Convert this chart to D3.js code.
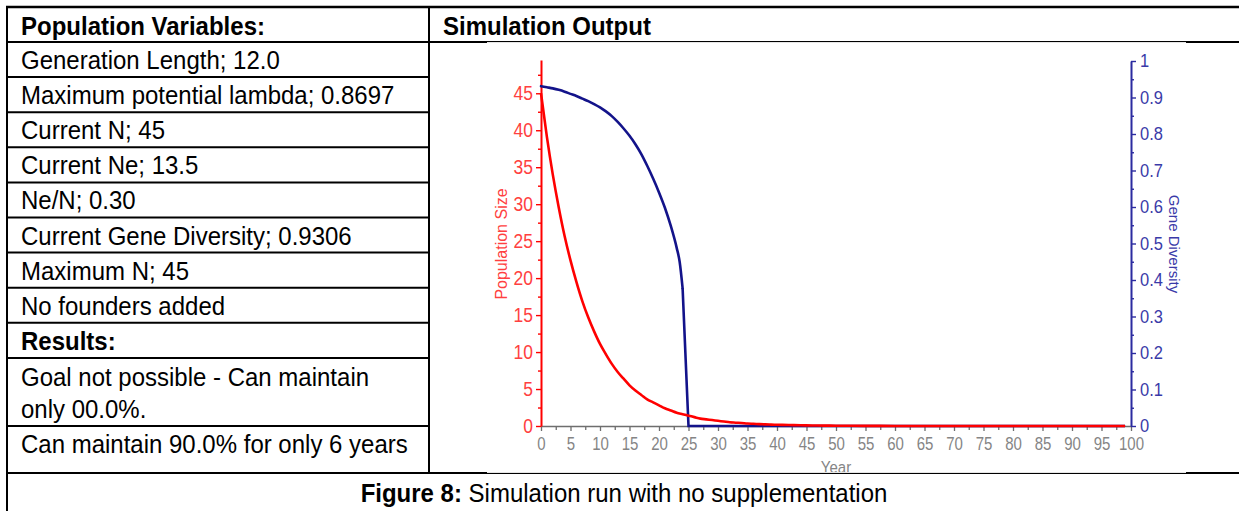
<!doctype html>
<html lang="en">
<head>
<meta charset="utf-8">
<style>
body { margin: 0; background: #fff; }
svg { display: block; }
text { font-family: "Liberation Sans", Arial, Helvetica, sans-serif; }
</style>
</head>
<body>
<svg id="fig" width="1239" height="511"></svg>

<script src="https://cdn.jsdelivr.net/npm/d3@7/dist/d3.min.js"></script>
<script>
// ---- table text ----
var headerLeft = "Population Variables:";
var headerRight = "Simulation Output";
var variableRows = [
    "Generation Length; 12.0",
    "Maximum potential lambda; 0.8697",
    "Current N; 45",
    "Current Ne; 13.5",
    "Ne/N; 0.30",
    "Current Gene Diversity; 0.9306",
    "Maximum N; 45",
    "No founders added"
];
var resultsHeader = "Results:";
var resultRows = [
    ["Goal not possible - Can maintain", "only 00.0%."],
    ["Can maintain 90.0% for only 6 years"]
];
var captionBold = "Figure 8:";
var captionText = " Simulation run with no supplementation";

// ---- chart data ----
var popYears  = [0, 1, 2, 3, 4, 5, 6, 7, 8, 9, 10, 11, 12, 13, 14, 15, 16, 17, 18, 19,
                 20, 21, 22, 23, 24, 25, 26, 27, 28, 29, 30, 31, 32, 33, 34, 35, 36, 37, 38, 39,
                 40, 42, 44, 46, 48, 50, 55, 60, 70, 80, 90, 99];
var popValues = [45.0, 39.1, 34.0, 29.6, 25.7, 22.4, 19.5, 16.9, 14.7, 12.8, 11.1, 9.7, 8.4, 7.3, 6.4, 5.5, 4.8, 4.2, 3.6, 3.2,
                 2.8, 2.4, 2.1, 1.8, 1.6, 1.4, 1.2, 1.0, 0.9, 0.8, 0.7, 0.6, 0.5, 0.45, 0.4, 0.34, 0.3, 0.26, 0.22, 0.19,
                 0.17, 0.13, 0.1, 0.07, 0.05, 0.04, 0.02, 0.01, 0, 0, 0, 0];

var divYears  = [0, 1, 2, 3, 4, 5, 6, 7, 8, 9, 10, 11, 12, 13, 14, 15, 16, 17, 18, 19,
                 20, 21, 22, 23, 23.5, 24, 25, 99];
var divValues = [0.931, 0.928, 0.925, 0.921, 0.916, 0.910, 0.904, 0.897, 0.890, 0.882,
                 0.873, 0.862, 0.849, 0.833, 0.815, 0.795, 0.772, 0.745, 0.713, 0.678,
                 0.640, 0.598, 0.548, 0.488, 0.450, 0.378, 0, 0];
var divDropYear = 24;   // after this the line falls straight to zero

var yearTicks = [0, 5, 10, 15, 20, 25, 30, 35, 40, 45, 50, 55, 60, 65, 70, 75, 80, 85, 90, 95, 100];
var popTicks  = [0, 5, 10, 15, 20, 25, 30, 35, 40, 45];
var divTicks  = [0, 0.1, 0.2, 0.3, 0.4, 0.5, 0.6, 0.7, 0.8, 0.9, 1];

var popMax = 49.5;

// ---- colours ----
var red = "#ff0000", redText = "#ff4040";
var navy = "#13138a", blueAxis = "#2b2ba0", blueText = "#3a3aa8";
var grey = "#6e6e6e", greyText = "#858585";

var svg = d3.select("#fig");

// ================= table =================
var colX = 429, leftX = 7, rightEdge = 1245;
var rowTop = 42, rowH = 35.1;
var lines = [7, rowTop];
for (var i = 1; i <= 9; i++) lines.push(rowTop + i * rowH);
lines.push(426, 473);

function stretchedText(g, x, y, str, opts) {
    var t = g.append("text")
        .attr("transform", "translate(" + x + "," + y + ") scale(1," + (opts.sy || 1) + ")")
        .attr("font-size", opts.size + "px")
        .attr("fill", opts.fill || "#000")
        .attr("font-weight", opts.bold ? "bold" : null)
        .attr("text-anchor", opts.anchor || "start")
        .text(str);
    return t;
}

var tbl = svg.append("g");
var textSize = 24, textSy = 1.1;

stretchedText(tbl, 21, 35, headerLeft, {size: textSize, sy: textSy, bold: true});
stretchedText(tbl, 443, 35, headerRight, {size: textSize, sy: textSy, bold: true});

variableRows.forEach(function(s, i) {
    stretchedText(tbl, 21, lines[i + 1] + 27, s, {size: textSize, sy: textSy});
});
stretchedText(tbl, 21, lines[9] + 27, resultsHeader, {size: textSize, sy: textSy, bold: true});
resultRows[0].forEach(function(s, j) {
    stretchedText(tbl, 21, lines[10] + 28.5 + j * 31.5, s, {size: textSize, sy: textSy});
});
stretchedText(tbl, 21, lines[11] + 27, resultRows[1][0], {size: textSize, sy: textSy});

var cap = tbl.append("text")
    .attr("transform", "translate(624,502) scale(1," + textSy + ")")
    .attr("font-size", textSize + "px")
    .attr("text-anchor", "middle");
cap.append("tspan").attr("font-weight", "bold").text(captionBold);
cap.append("tspan").text(captionText);

// ================= chart =================
var x = d3.scaleLinear().domain([0, 100]).range([541, 1131]);
var yPop = d3.scaleLinear().domain([0, popMax]).range([426, 60]);
var yDiv = d3.scaleLinear().domain([0, 1]).range([426, 61]);

var chart = svg.append("g");

function minorOf(ticks, step, upto) {
    return ticks.map(function(t) { return t + step; }).filter(function(t) { return t < upto; });
}

// x axis
var xAxis = chart.append("g").attr("transform", "translate(0,426)")
    .call(d3.axisBottom(x).tickValues(yearTicks).tickSize(5).tickSizeOuter(0).tickFormat(d3.format("d")));
var xMinor = chart.append("g").attr("transform", "translate(0,426)")
    .call(d3.axisBottom(x).tickValues(minorOf(yearTicks, 2.5, 100)).tickSize(4).tickSizeOuter(0).tickFormat(""));
xMinor.select(".domain").remove();
[xAxis, xMinor].forEach(function(g) { g.selectAll("line").attr("stroke", grey).attr("stroke-width", 1.3); });
xAxis.select(".domain").attr("stroke", grey).attr("stroke-width", 1.6);
xAxis.selectAll("text")
    .attr("y", null).attr("dy", null)
    .attr("transform", "translate(0,24) scale(1,1.25)")
    .attr("fill", greyText).attr("font-size", "15px").attr("font-family", null);

// left (population) axis
var yAxisL = chart.append("g").attr("transform", "translate(541,0)")
    .call(d3.axisLeft(yPop).tickValues(popTicks).tickSize(5).tickPadding(3).tickSizeOuter(0));
var yMinorL = chart.append("g").attr("transform", "translate(541,0)")
    .call(d3.axisLeft(yPop).tickValues(minorOf(popTicks, 2.5, popMax)).tickSize(3).tickSizeOuter(0).tickFormat(""));
yMinorL.select(".domain").remove();
[yAxisL, yMinorL].forEach(function(g) { g.selectAll("line").attr("stroke", red).attr("stroke-width", 1.4); });
yAxisL.select(".domain").attr("stroke", red).attr("stroke-width", 2);
yAxisL.selectAll("text").attr("fill", redText).attr("font-size", "17.5px").attr("font-family", null)
    .attr("transform", "scale(1,1.12)");

// right (gene diversity) axis
var yAxisR = chart.append("g").attr("transform", "translate(1131,0)")
    .call(d3.axisRight(yDiv).tickValues(divTicks).tickSize(5).tickPadding(4).tickSizeOuter(0).tickFormat(d3.format("")));
var yMinorR = chart.append("g").attr("transform", "translate(1131,0)")
    .call(d3.axisRight(yDiv).tickValues(minorOf(divTicks, 0.05, 1)).tickSize(3).tickSizeOuter(0).tickFormat(""));
yMinorR.select(".domain").remove();
[yAxisR, yMinorR].forEach(function(g) { g.selectAll("line").attr("stroke", blueAxis).attr("stroke-width", 1.4); });
yAxisR.select(".domain").attr("stroke", blueAxis).attr("stroke-width", 2);
yAxisR.selectAll("text").attr("fill", blueText).attr("font-size", "16.5px").attr("font-family", null)
    .attr("transform", "scale(1,1.12)");

// axis titles
chart.append("text")
    .attr("transform", "translate(507,244) rotate(-90)")
    .attr("text-anchor", "middle").attr("font-size", "16px").attr("fill", redText)
    .text("Population Size");
chart.append("text")
    .attr("transform", "translate(1169,244) rotate(90)")
    .attr("text-anchor", "middle").attr("font-size", "15px").attr("fill", blueText)
    .text("Gene Diversity");
chart.append("text")
    .attr("transform", "translate(836,473) scale(1,1.15)")
    .attr("text-anchor", "middle").attr("font-size", "15px").attr("fill", greyText)
    .text("Year");

// series: gene diversity (smooth decline, then a straight drop to zero)
var divPts = divYears.map(function(yr, i) { return [yr, divValues[i]]; });
var smoothPart = divPts.filter(function(p) { return p[0] <= divDropYear; });
var dropPart = divPts.filter(function(p) { return p[0] >= divDropYear; });
var divLine = d3.line()
    .x(function(p) { return x(p[0]); })
    .y(function(p) { return yDiv(p[1]); });
chart.append("path").datum(smoothPart)
    .attr("d", divLine.curve(d3.curveMonotoneX)).attr("fill", "none")
    .attr("stroke", navy).attr("stroke-width", 2.6).attr("stroke-linecap", "round");
chart.append("path").datum(dropPart)
    .attr("d", divLine.curve(d3.curveLinear)).attr("fill", "none")
    .attr("stroke", navy).attr("stroke-width", 2.6).attr("stroke-linejoin", "miter");

// series: population size
var popLine = d3.line()
    .x(function(d, i) { return x(popYears[i]); })
    .y(function(d) { return yPop(d); })
    .curve(d3.curveMonotoneX);
chart.append("path").datum(popValues)
    .attr("d", popLine).attr("fill", "none")
    .attr("stroke", red).attr("stroke-width", 2.6).attr("stroke-linejoin", "round");

// ================= table borders (drawn over the chart picture) =================
var borders = svg.append("g").attr("stroke", "#000").attr("stroke-width", 2);
borders.append("line").attr("x1", 6).attr("x2", rightEdge).attr("y1", 7).attr("y2", 7).attr("stroke-width", 2.5);
lines.slice(1, lines.length - 1).forEach(function(y, i) {
    borders.append("line").attr("x1", leftX).attr("x2", i === 0 ? rightEdge : colX).attr("y1", y).attr("y2", y);
});
borders.append("line").attr("x1", leftX).attr("x2", rightEdge).attr("y1", 473).attr("y2", 473);
borders.append("line").attr("x1", leftX).attr("x2", leftX).attr("y1", 6).attr("y2", 511);
borders.append("line").attr("x1", colX).attr("x2", colX).attr("y1", 6).attr("y2", 473);

// the pasted chart picture overlaps half of the frame lines
svg.append("rect").attr("x", 487).attr("y", 42).attr("width", 699).attr("height", 0.9).attr("fill", "#fff");
svg.append("rect").attr("x", 487).attr("y", 472.1).attr("width", 699).attr("height", 0.9).attr("fill", "#fff");
</script>
</body>
</html>
